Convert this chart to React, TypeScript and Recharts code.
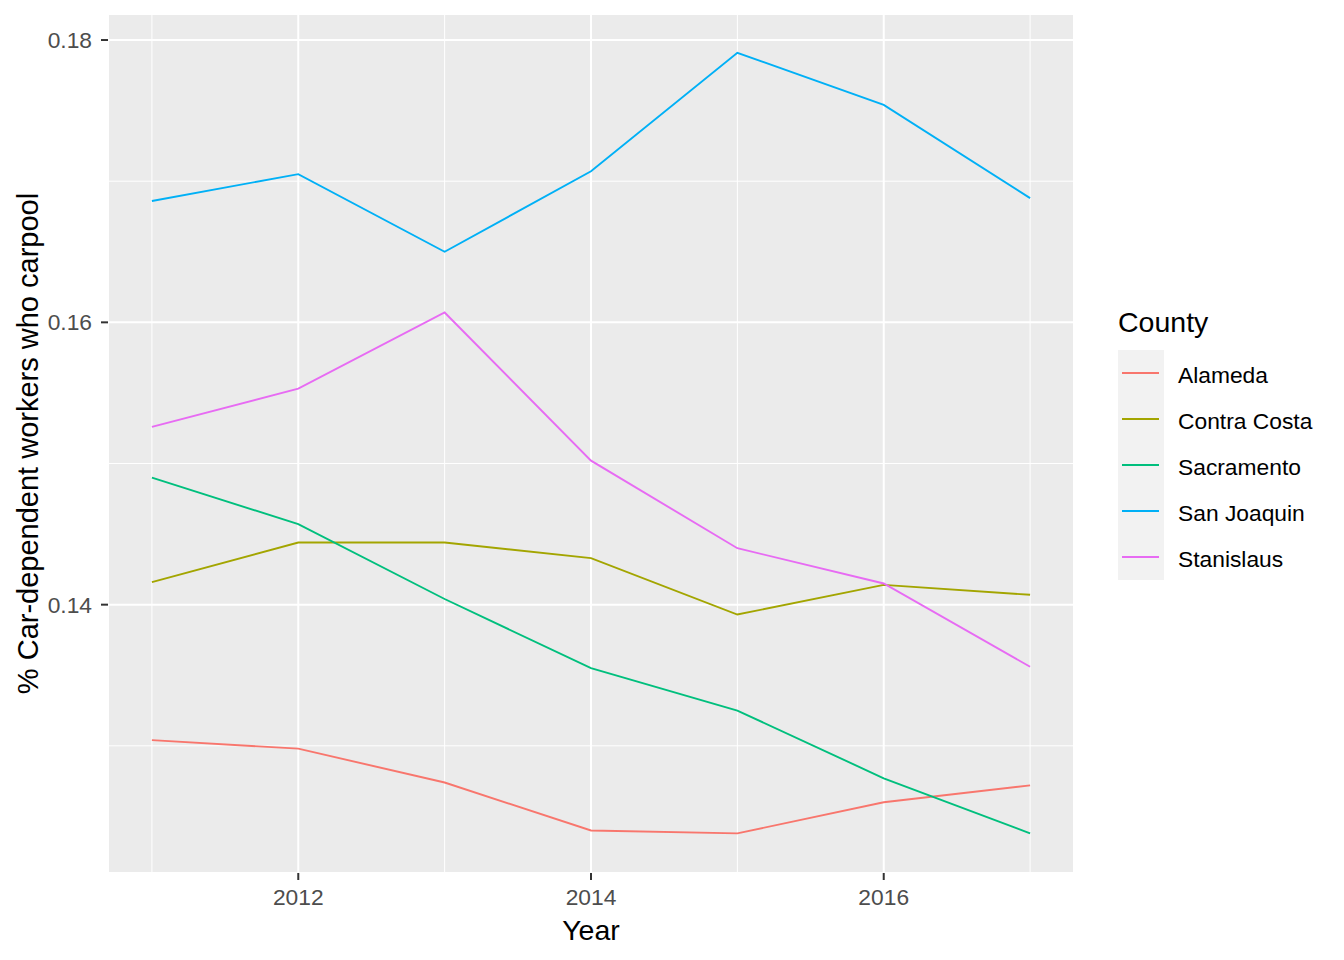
import { CartesianGrid, Legend, Line, LineChart, XAxis, YAxis } from "recharts";

const years = [2011, 2012, 2013, 2014, 2015, 2016, 2017];
const alameda = [0.1304, 0.1298, 0.1274, 0.124, 0.1238, 0.126, 0.1272];
const contraCosta = [0.1416, 0.1444, 0.1444, 0.1433, 0.1393, 0.1414, 0.1407];
const sacramento = [0.149, 0.1457, 0.1404, 0.1355, 0.1325, 0.1277, 0.1238];
const sanJoaquin = [0.1686, 0.1705, 0.165, 0.1707, 0.1791, 0.1754, 0.1688];
const stanislaus = [0.1526, 0.1553, 0.1607, 0.1502, 0.144, 0.1415, 0.1356];

const xMajorTicks = [2012, 2014, 2016];
const xMinorTicks = [2011, 2013, 2015, 2017];
const yMajorTicks = [0.14, 0.16, 0.18];
const yMinorTicks = [0.13, 0.15, 0.17];

const series = [
  { name: "Alameda", values: alameda, color: "#F8766D" },
  { name: "Contra Costa", values: contraCosta, color: "#A3A500" },
  { name: "Sacramento", values: sacramento, color: "#00BF7D" },
  { name: "San Joaquin", values: sanJoaquin, color: "#00B0F6" },
  { name: "Stanislaus", values: stanislaus, color: "#E76BF3" },
];

const chartData = years.map((year, i) => {
  const row: Record<string, number> = { year };
  series.forEach((s) => {
    row[s.name] = s.values[i];
  });
  return row;
});

const FONT = "'Liberation Sans', Arial, sans-serif";
const xDomain = [2010.7, 2017.3];
const yDomain = [0.12099, 0.181844];

function XTitle({ viewBox }: any) {
  return (
    <text x={viewBox.x + viewBox.width / 2} y={viewBox.y + 67} textAnchor="middle" fontSize={28.5} fill="#000" fontFamily={FONT}>
      Year
    </text>
  );
}

function YTitle({ viewBox }: any) {
  const x = viewBox.x + 38;
  const y = viewBox.y + viewBox.height / 2;
  return (
    <text x={x} y={y} transform={`rotate(-90 ${x} ${y})`} textAnchor="middle" fontSize={29} fill="#000" fontFamily={FONT}>
      % Car-dependent workers who carpool
    </text>
  );
}

function CountyLegend() {
  return (
    <svg width={230} height={290} style={{ display: "block" }}>
      <text x={8} y={32} fontSize={28.5} fill="#000" fontFamily={FONT}>
        County
      </text>
      <rect x={8} y={50} width={46} height={230} fill="#F2F2F2" />
      {series.map((s, i) => (
        <g key={s.name}>
          <line x1={12} x2={49} y1={73 + i * 46} y2={73 + i * 46} stroke={s.color} strokeWidth={1.9} />
          <text x={68} y={75 + i * 46} dy="0.36em" fontSize={22.8} fill="#000" fontFamily={FONT}>
            {s.name}
          </text>
        </g>
      ))}
    </svg>
  );
}

export default function App() {
  return (
    <div style={{ position: "absolute", left: 0, top: 0, background: "#fff" }}>
      <LineChart width={1344} height={960} data={chartData} margin={{ top: 14, right: 270, left: 0, bottom: 0 }}>
        <XAxis xAxisId="minor" dataKey="year" type="number" domain={xDomain} ticks={xMinorTicks} allowDataOverflow hide />
        <YAxis yAxisId="minor" type="number" domain={yDomain} ticks={yMinorTicks} allowDataOverflow hide />
        <CartesianGrid xAxisId="minor" yAxisId="minor" fill="#EBEBEB" fillOpacity={1} stroke="#FFFFFF" strokeWidth={1} />
        <CartesianGrid stroke="#FFFFFF" strokeWidth={2} />
        <XAxis
          dataKey="year"
          type="number"
          domain={xDomain}
          ticks={xMajorTicks}
          allowDataOverflow
          height={87}
          axisLine={false}
          tickSize={7}
          tickMargin={9}
          tickLine={{ stroke: "#333333", strokeWidth: 2 }}
          tick={{ fontSize: 22.8, fill: "#4D4D4D", fontFamily: FONT }}
          label={<XTitle />}
        />
        <YAxis
          type="number"
          domain={yDomain}
          ticks={yMajorTicks}
          allowDataOverflow
          width={108}
          axisLine={false}
          tickSize={7}
          tickMargin={9}
          tickLine={{ stroke: "#333333", strokeWidth: 2 }}
          tick={{ fontSize: 22.8, fill: "#4D4D4D", fontFamily: FONT }}
          tickFormatter={(v: number) => v.toFixed(2)}
          label={<YTitle />}
        />
        {series.map((s) => (
          <Line
            key={s.name}
            type="linear"
            dataKey={s.name}
            stroke={s.color}
            strokeWidth={1.9}
            dot={false}
            activeDot={false}
            isAnimationActive={false}
          />
        ))}
        <Legend
          layout="horizontal"
          verticalAlign="middle"
          align="center"
          content={<CountyLegend />}
          wrapperStyle={{ left: 1110, top: 300, width: 230, height: 290 }}
        />
      </LineChart>
    </div>
  );
}
